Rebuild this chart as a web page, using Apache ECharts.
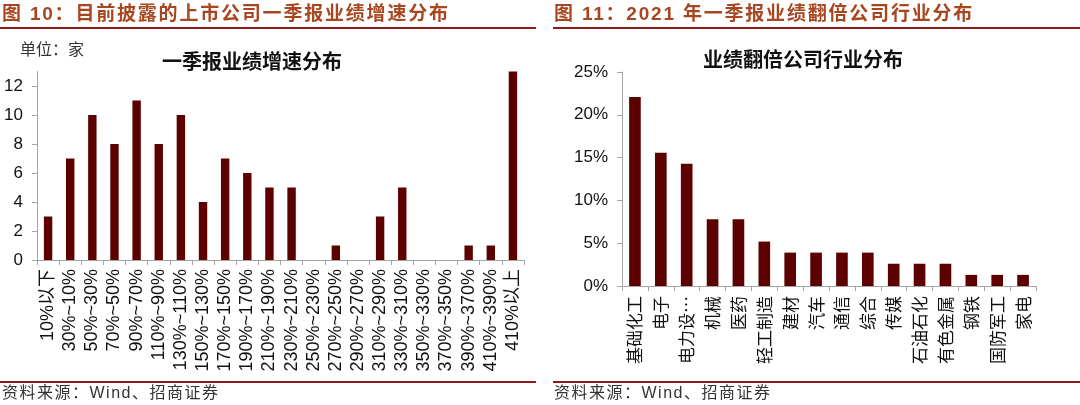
<!DOCTYPE html>
<html>
<head>
<meta charset="utf-8">
<script src="https://cdn.jsdelivr.net/npm/echarts@6/dist/echarts.min.js"></script>
<style>
  html, body { margin:0; padding:0; background:#fff; }
  #wrap { position:relative; width:1080px; height:405px; overflow:hidden; }
  #chart { position:absolute; left:0; top:0; width:1080px; height:405px; }
  .hdr { position:absolute; top:3px; font-family:"Liberation Sans","Noto Sans CJK SC",sans-serif; font-weight:bold; font-size:19px; line-height:21px; color:#a8461f; letter-spacing:1.8px; white-space:nowrap; }
  .rule { position:absolute; height:2px; background:#8c1c1c; }
  .foot { position:absolute; top:382px; font-family:"Liberation Sans","Noto Sans CJK SC",sans-serif; font-size:16px; line-height:22px; color:#333; letter-spacing:1.5px; white-space:nowrap; }
</style>
</head>
<body>
<div id="wrap">
  <div id="chart"></div>
  <div class="hdr" style="left:2px;">图 10：目前披露的上市公司一季报业绩增速分布</div>
  <div class="hdr" style="left:554px;">图 11：2021 年一季报业绩翻倍公司行业分布</div>
  <div class="rule" style="left:0; width:536px; top:27px;"></div>
  <div class="rule" style="left:553px; width:527px; top:27px;"></div>
  <div class="rule" style="left:0; width:536px; top:381px;"></div>
  <div class="rule" style="left:553px; width:527px; top:381px;"></div>
  <div class="foot" style="left:2px;">资料来源：Wind、招商证券</div>
  <div class="foot" style="left:554px;">资料来源：Wind、招商证券</div>
</div>
<script>
// Left chart data
var growthCategories = ["10%以下","30%~10%","50%~30%","70%~50%","90%~70%","110%~90%","130%~110%","150%~130%","170%~150%","190%~170%","210%~190%","230%~210%","250%~230%","270%~250%","290%~270%","310%~290%","330%~310%","350%~330%","370%~350%","390%~370%","410%~390%","410%以上"];
var growthCounts = [3,7,10,8,11,8,10,4,7,6,5,5,0,1,0,3,5,0,0,1,1,13];
var growthTicks = [0,2,4,6,8,10,12];

// Right chart data
var industryCategories = ["基础化工","电子","电力设…","机械","医药","轻工制造","建材","汽车","通信","综合","传媒","石油石化","有色金属","钢铁","国防军工","家电"];
var industryShares = [22.08,15.58,14.29,7.79,7.79,5.19,3.90,3.90,3.90,3.90,2.60,2.60,2.60,1.30,1.30,1.30];
var shareTicks = [0,5,10,15,20,25];

var FONT = '"Liberation Sans","Noto Sans CJK SC",sans-serif';
var CJK = '"Noto Sans CJK SC",sans-serif';
var axisColor = '#a6a6a6';
var barColor = '#5c0000';

var chart = echarts.init(document.getElementById('chart'));
chart.setOption({
  animation: false,
  backgroundColor: 'transparent',
  graphic: [
    { type:'text', left:20, top:41, style:{ text:'单位：家', font:'16px ' + CJK, fill:'#333' } },
    { type:'text', x:252, y:61, style:{ text:'一季报业绩增速分布', font:'bold 20px ' + CJK, fill:'#111', align:'center', verticalAlign:'middle' } },
    { type:'text', x:803, y:59, style:{ text:'业绩翻倍公司行业分布', font:'bold 20px ' + CJK, fill:'#111', align:'center', verticalAlign:'middle' } }
  ],
  grid: [
    { left:37, top:71.5, width:487, height:188.5 },
    { left:622, top:72, width:414, height:214 }
  ],
  xAxis: [
    { type:'category', gridIndex:0, data:growthCategories,
      axisLine:{ lineStyle:{ color:axisColor, width:1 } },
      axisTick:{ show:true, length:5, lineStyle:{ color:axisColor } },
      axisLabel:{ interval:0, rotate:90, margin:9, fontSize:18, color:'#111', fontFamily:FONT } },
    { type:'category', gridIndex:1, data:industryCategories,
      axisLine:{ lineStyle:{ color:axisColor, width:1 } },
      axisTick:{ show:true, length:5, lineStyle:{ color:axisColor } },
      axisLabel:{ interval:0, rotate:90, margin:10, fontSize:17, color:'#111', fontFamily:CJK } }
  ],
  yAxis: [
    { type:'value', gridIndex:0, min:0, max:13,
      splitLine:{ show:false },
      axisLine:{ show:true, lineStyle:{ color:axisColor } },
      axisTick:{ show:true, length:5, lineStyle:{ color:axisColor }, customValues:growthTicks },
      axisLabel:{ margin:14, fontSize:17, color:'#111', fontFamily:FONT, customValues:growthTicks } },
    { type:'value', gridIndex:1, min:0, max:25, interval:5,
      splitLine:{ show:false },
      axisLine:{ show:true, lineStyle:{ color:axisColor } },
      axisTick:{ show:true, length:5, lineStyle:{ color:axisColor }, customValues:shareTicks },
      axisLabel:{ margin:14, fontSize:17, color:'#111', fontFamily:FONT, formatter:'{value}%', customValues:shareTicks } }
  ],
  series: [
    { type:'bar', xAxisIndex:0, yAxisIndex:0, data:growthCounts, barWidth:'38%', itemStyle:{ color:barColor } },
    { type:'bar', xAxisIndex:1, yAxisIndex:1, data:industryShares, barWidth:'45%', itemStyle:{ color:barColor } }
  ]
});
</script>
</body>
</html>
